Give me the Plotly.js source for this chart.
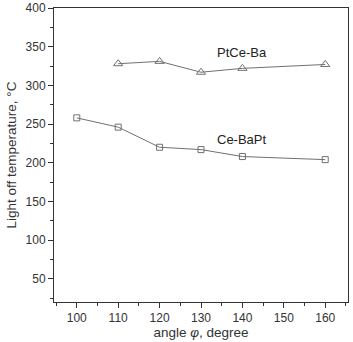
<!DOCTYPE html>
<html><head><meta charset="utf-8">
<script src="https://cdn.plot.ly/plotly-3.0.1.min.js"></script>
<style>html,body{margin:0;padding:0;background:#fff}#c{width:353px;height:342px}</style>
</head><body><div id="c"></div>
<script>
const anglesPt = [110, 120, 130, 140, 160];
const tempPtCeBa = [328, 331, 317, 322, 327];
const anglesCe = [100, 110, 120, 130, 140, 160];
const tempCeBaPt = [258, 246, 220, 217, 208, 204];
const seriesNames = ["PtCe-Ba", "Ce-BaPt"];
const labelPos = [[140, 342], [140, 230]];

const lineCol = '#707070';
const traces = [
  {x: anglesPt, y: tempPtCeBa, name: seriesNames[0], mode: 'lines+markers', type: 'scatter',
   line: {color: lineCol, width: 1},
   marker: {symbol: 'triangle-up-open', size: 8, color: lineCol, line: {width: 1}}},
  {x: anglesCe, y: tempCeBaPt, name: seriesNames[1], mode: 'lines+markers', type: 'scatter',
   line: {color: lineCol, width: 1},
   marker: {symbol: 'square-open', size: 6, color: lineCol, line: {width: 1}}}
];
const fam = 'Liberation Sans, Arial, sans-serif';
const layout = {
  width: 353, height: 342,
  margin: {l: 54, r: 5, t: 8, b: 40},
  showlegend: false,
  paper_bgcolor: '#fff', plot_bgcolor: '#fff',
  font: {family: fam, size: 12, color: '#333'},
  xaxis: {range: [94.5, 165.5], tickvals: [100,110,120,130,140,150,160], ticks: 'outside', ticklen: 5,
          tickcolor: '#333', showline: true, linecolor: '#333', linewidth: 1, mirror: true,
          showgrid: false, zeroline: false, tickfont: {family: fam, size: 12, color: '#333'},
          minor: {dtick: 5, tick0: 95, ticks: 'outside', ticklen: 3, tickcolor: '#333', showgrid: false},
          title: {text: 'angle <i>φ</i>, degree', font: {family: fam, size: 13.5, color: '#333'}, standoff: 3}},
  yaxis: {range: [20, 400], tickvals: [50,100,150,200,250,300,350,400], ticks: 'outside', ticklen: 5,
          tickcolor: '#333', showline: true, linecolor: '#333', linewidth: 1, mirror: true,
          showgrid: false, zeroline: false, tickfont: {family: fam, size: 12, color: '#333'},
          minor: {dtick: 25, tick0: 0, ticks: 'outside', ticklen: 3, tickcolor: '#333', showgrid: false},
          title: {text: 'Light off temperature, °C', font: {family: fam, size: 13.5, color: '#333'}, standoff: 5}},
  annotations: seriesNames.map((n, i) => ({x: labelPos[i][0], y: labelPos[i][1], text: n, showarrow: false,
    font: {family: fam, size: 13, color: '#222'}}))
};
Plotly.newPlot('c', traces, layout, {displayModeBar: false, staticPlot: true});
</script></body></html>
